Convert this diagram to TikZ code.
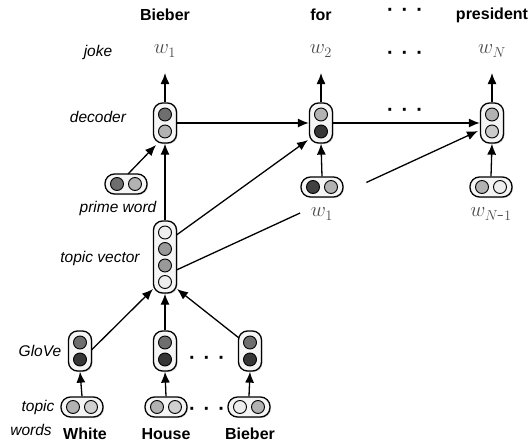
\documentclass[tikz,border=0pt]{standalone}
\usepackage{fontspec}
\newfontfamily\lsans{Liberation Sans}
\usetikzlibrary{arrows.meta,shadows,calc}
\definecolor{dk}{HTML}{363636}
\definecolor{md}{HTML}{6E6E6E}
\definecolor{lt}{HTML}{B2B2B2}
\definecolor{vlt}{HTML}{D0D0D0}
\definecolor{wh}{HTML}{EEEEEE}
\definecolor{gr}{HTML}{999999}
\definecolor{mathgray}{HTML}{4A4A4A}
\newcommand\mydots{·\hspace{8pt}·\hspace{8pt}·}
\begin{document}
\begin{tikzpicture}[x=1pt,y=-1pt,
  ubox/.style={draw=black, line width=1.3pt, rounded corners=9pt, fill=gray!8,
    minimum width=23pt, inner sep=0pt,
    drop shadow={shadow xshift=1pt, shadow yshift=-1pt, opacity=0.35}},
  hbox/.style={draw=black, line width=1.3pt, rounded corners=9.5pt, fill=gray!8,
    minimum width=42pt, minimum height=20pt, inner sep=0pt,
    drop shadow={shadow xshift=1pt, shadow yshift=-1pt, opacity=0.35}},
  cell/.style={circle, draw=black, line width=0.9pt, minimum size=13pt, inner sep=0pt},
  arr/.style={line width=1.3pt, -{Latex[length=11pt,width=9pt]}},
  ln/.style={line width=1.3pt},
  bold/.style={font=\lsans\bfseries\fontsize{16}{18}\selectfont},
  ital/.style={font=\lsans\itshape\fontsize{15.5}{18}\selectfont},
  wlab/.style={text=mathgray, font=\fontsize{21}{24}\selectfont},
  dots/.style={font=\lsans\bfseries\fontsize{20}{22}\selectfont, inner sep=0pt,
    text height=4pt, text depth=0pt}]
\useasboundingbox (0,0) rectangle (531,442);

% top labels
\node[bold] (tB) at (165,15) {Bieber};
\node[bold] (tF) at (321,15) {for};
\node[dots] (tD) at (405,14) {\mydots};
\node[bold] (tP) at (492,15) {president};

\node[ital] (ljoke) at (98,52) {joke};
\node[wlab] (ow1) at (165,51) {$w_1$};
\node[wlab] (ow2) at (321,51) {$w_2$};
\node[dots] (owd) at (405,57) {\mydots};
\node[wlab] (owN) at (492,51) {$w_N$};

% decoders
\node[ital] (ldec) at (98,117) {decoder};
\node[ubox, minimum height=40pt] (d1) at (165,123) {};
\node[cell, fill=md] (d1a) at (165,114.5) {};
\node[cell, fill=lt] (d1b) at (165,131.5) {};
\node[ubox, minimum height=40pt] (d2) at (321,123) {};
\node[cell, fill=lt] (d2a) at (321,114.5) {};
\node[cell, fill=dk] (d2b) at (321,131.5) {};
\node[dots] (dd) at (405,114) {\mydots};
\node[ubox, minimum height=40pt] (dN) at (492,123) {};
\node[cell, fill=lt] (dNa) at (492,114.5) {};
\node[cell, fill=vlt!80!lt] (dNb) at (492,131.5) {};

\coordinate (t1) at (165,73);
\coordinate (t2) at (321,73);
\coordinate (tN) at (492,73);
\draw[arr] (d1.north) -- (t1);
\draw[arr] (d2.north) -- (t2);
\draw[arr] (dN.north) -- (tN);
\draw[arr] (d1.east) -- (d2.west);
\draw[arr] (d2.east) -- (dN.west);

% prime word
\node[hbox] (pw) at (126,184) {};
\node[cell, fill=md] (pwa) at (117,184) {};
\node[cell, fill=lt] (pwb) at (135,184) {};
\node[ital] (lpw) at (118,208) {prime word};
\coordinate (pwt) at (128,174);
\coordinate (d1sw) at (156,145);
\draw[arr] (pwt) -- (d1sw);

% embeddings of previous words
\node[hbox] (e1) at (322,187) {};
\node[cell, fill=dk!80!md] (e1a) at (313,187) {};
\node[cell, fill=lt] (e1b) at (331,187) {};
\node[wlab] (lw1) at (322,214) {$w_1$};
\node[hbox] (eN) at (491,187) {};
\node[cell, fill=lt] (eNa) at (482,187) {};
\node[cell, fill=wh] (eNb) at (500,187) {};
\node[wlab] (lwN) at (491,214) {$w_{N\mbox{-}1}$};
\draw[arr] (e1.north) -- (d2.south);
\draw[arr] (eN.north) -- (dN.south);

% topic vector
\node[ital] (ltv) at (100,258) {topic vector};
\node[ubox, minimum height=72pt] (tv) at (165,257) {};
\node[cell, fill=wh] (tva) at (165,232.5) {};
\node[cell, fill=gr] (tvb) at (165,249) {};
\node[cell, fill=gr] (tvc) at (165,265.5) {};
\node[cell, fill=wh] (tvd) at (165,282) {};
\draw[arr] (tv.north) -- (d1.south);
\coordinate (tvu) at (176.5,235);
\coordinate (tvl) at (176.5,270);
\coordinate (d2sw) at (308,140);
\coordinate (dNsw) at (478,131);
\draw[arr] (tvu) -- (d2sw);
\draw[ln] (tvl) -- ($(tvl)!0.41!(dNsw)$);
\draw[arr] ($(tvl)!0.63!(dNsw)$) -- (dNsw);

% GloVe
\node[ital] (lgl) at (40,351) {GloVe};
\foreach \n/\x in {g1/80,g2/165,g3/250}{
  \node[ubox, minimum height=40pt] (\n) at (\x,351) {};
  \node[cell, fill=md] (\n a) at (\x,342.5) {};
  \node[cell, fill=dk] (\n b) at (\x,359.5) {};
}
\node[dots] (gd) at (207,362) {\mydots};
\coordinate (tvsw) at (153,289);
\coordinate (tvse) at (177,289);
\coordinate (g1e) at (91.5,350);
\coordinate (g3w) at (239,338);
\draw[arr] (g1e) -- (tvsw);
\draw[arr] (g2.north) -- (tv.south);
\draw[arr] (g3w) -- (tvse);

% topic words
\node[ital] (ltw1) at (38,407) {topic};
\node[ital] (ltw2) at (31,430) {words};
\node[hbox] (w1) at (82,407) {};
\node[cell, fill=lt] (w1a) at (73,407) {};
\node[cell, fill=vlt] (w1b) at (91,407) {};
\node[hbox] (w2) at (166,407) {};
\node[cell, fill=lt] (w2a) at (157,407) {};
\node[cell, fill=vlt] (w2b) at (175,407) {};
\node[hbox] (w3) at (249,407) {};
\node[cell, fill=wh] (w3a) at (240,407) {};
\node[cell, fill=lt] (w3b) at (258,407) {};
\node[dots] (wd) at (207,413) {\mydots};
\draw[arr] (w1.north) -- (g1.south);
\draw[arr] (w2.north) -- (g2.south);
\draw[arr] (w3.north) -- (g3.south);

\node[bold] (bW) at (85,434) {White};
\node[bold] (bH) at (166,434) {House};
\node[bold] (bB) at (250,434) {Bieber};
\end{tikzpicture}
\end{document}
